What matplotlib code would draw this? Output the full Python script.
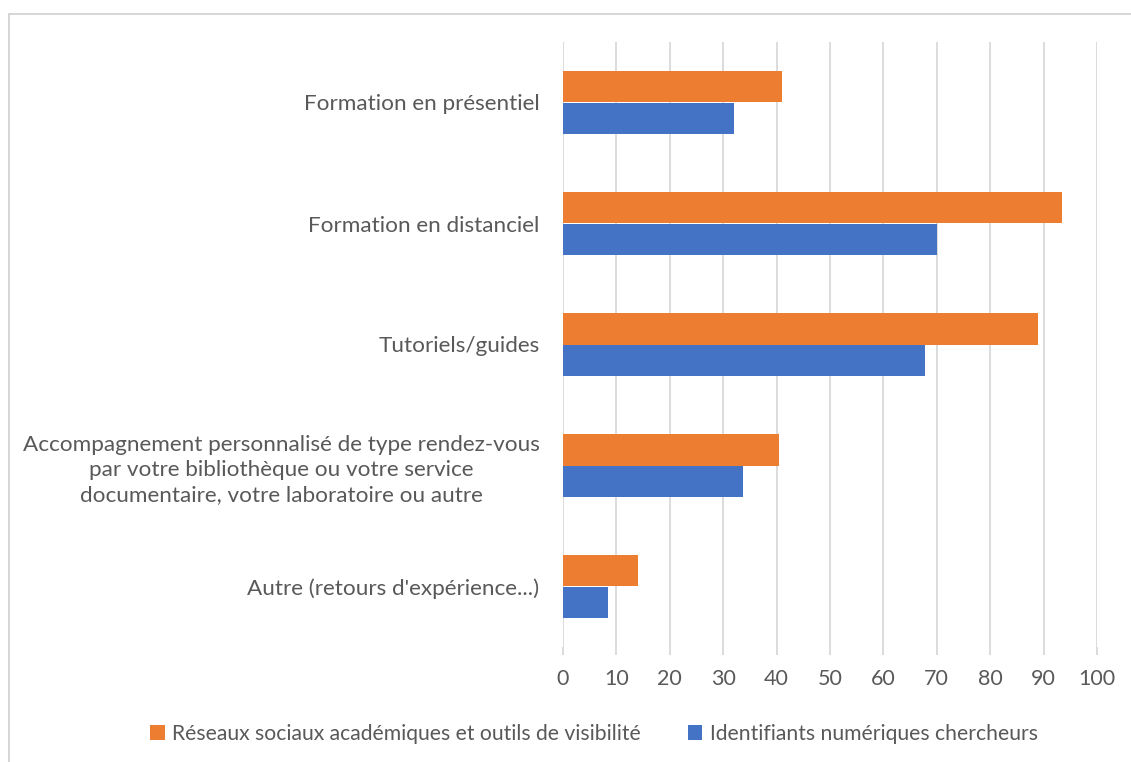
import matplotlib.pyplot as plt
import matplotlib.patches as mpatches
import numpy as np

# categories, top to bottom
categories = [
    "Formation en présentiel",
    "Formation en distanciel",
    "Tutoriels/guides",
    "Accompagnement personnalisé de type rendez-vous\npar votre bibliothèque ou votre service\ndocumentaire, votre laboratoire ou autre",
    "Autre (retours d'expérience...)",
]
reseaux = [41, 93.5, 89, 40.5, 14]
identifiants = [32, 70, 67.7, 33.7, 8.5]
series_names = ["Réseaux sociaux académiques et outils de visibilité",
                "Identifiants numériques chercheurs"]
xticks = list(range(0, 101, 10))

orange = "#ED7D31"
blue = "#4472C4"
grey_txt = "#595959"
grid_col = "#D9D9D9"

plt.rcParams['font.family'] = ['Lato', 'DejaVu Sans']

fig = plt.figure(figsize=(11.31, 7.62), dpi=100)
ax = fig.add_axes([563 / 1131, 1 - 647 / 762, (1097 - 563) / 1131, (647 - 42) / 762])

#frame of the chart area (top and left visible)
fig.patches.append(mpatches.Rectangle((9 / 1131, -0.1), 1.2, 1 - 14 / 762 + 0.1,
                                      transform=fig.transFigure, fill=False,
                                      edgecolor="#D0D0D0", linewidth=1.2))

y = np.arange(len(categories))
h = 0.26
ax.barh(y - h / 2, reseaux, height=h, color=orange, label=series_names[0], zorder=3)
ax.barh(y + h / 2, identifiants, height=h, color=blue, label=series_names[1], zorder=3)

ax.set_ylim(len(categories) - 0.5, -0.5)
ax.set_xlim(0, 100)
ax.set_xticks(xticks)
ax.set_yticks(y)
ax.set_yticklabels(categories)
for lbl in ax.get_yticklabels():
    lbl.set_multialignment('center')
    lbl.set_linespacing(1.3)

ax.grid(axis='x', color=grid_col, linewidth=1.3, zorder=0)
for s in ax.spines.values():
    s.set_visible(False)
ax.tick_params(axis='y', length=0, pad=17, labelsize=16.2, labelcolor=grey_txt)
ax.tick_params(axis='x', length=6, width=1.3, color=grid_col, pad=10,
               labelsize=15.5, labelcolor=grey_txt)

leg = fig.legend(loc='center', bbox_to_anchor=(594 / 1131, 1 - 734 / 762), ncol=2,
                 frameon=False, fontsize=15.2, handlelength=0.7, handleheight=0.7,
                 handletextpad=0.35, columnspacing=2.2, labelcolor=grey_txt)

fig.savefig("out.png", dpi=100, facecolor="white")
